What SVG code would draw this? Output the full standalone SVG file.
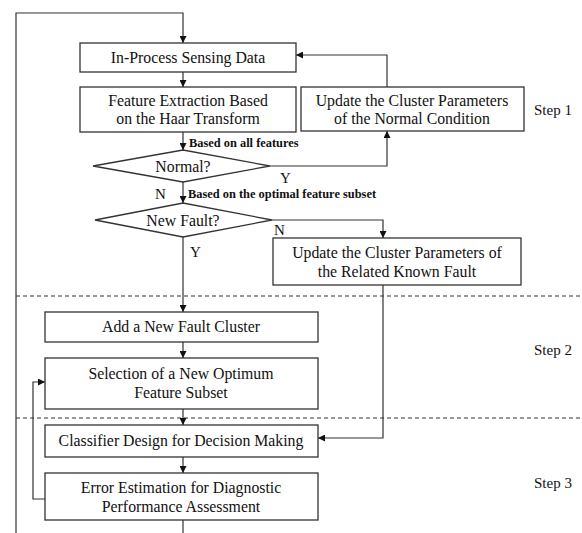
<svg xmlns="http://www.w3.org/2000/svg" width="582" height="533" viewBox="0 0 582 533">
<defs>
<marker id="ah" viewBox="0 0 10 10" refX="10" refY="5" markerWidth="7" markerHeight="7" markerUnits="userSpaceOnUse" orient="auto">
<path d="M0,0 L10,5 L0,10 Z" fill="#111"/>
</marker>
<style>
.box{fill:#fff;stroke:#333;stroke-width:1.3}
.t{font-family:"Liberation Serif",serif;font-size:15.8px;fill:#111;text-anchor:middle}
.s{font-family:"Liberation Serif",serif;font-size:12.4px;fill:#111}
.l{font-family:"Liberation Serif",serif;font-size:15px;fill:#111}
.c{fill:none;stroke:#333;stroke-width:1.2}
.d{fill:none;stroke:#333;stroke-width:1;stroke-dasharray:4,3}
</style>
</defs>
<rect width="582" height="533" fill="#fff"/>
<g id="dividers">
<line class="d" x1="16" y1="296" x2="582" y2="296"/>
<line class="d" x1="16" y1="418" x2="582" y2="418"/>
</g>
<g id="connectors">
<polyline class="c" points="183,533 183,520"/>
<polyline class="c" points="16,533 16,13 183,13 183,43" marker-end="url(#ah)"/>
<line class="c" x1="183" y1="72" x2="183" y2="87" marker-end="url(#ah)"/>
<line class="c" x1="183" y1="132" x2="183" y2="150" marker-end="url(#ah)"/>
<polyline class="c" points="270,166 387,166 387,131" marker-end="url(#ah)"/>
<polyline class="c" points="387,87 387,55 296,55" marker-end="url(#ah)"/>
<line class="c" x1="183" y1="182" x2="183" y2="203" marker-end="url(#ah)"/>
<polyline class="c" points="272,220 383,220 383,238" marker-end="url(#ah)"/>
<line class="c" x1="183" y1="237" x2="183" y2="312" marker-end="url(#ah)"/>
<polyline class="c" points="383,285 383,438 318,438" marker-end="url(#ah)"/>
<line class="c" x1="183" y1="342" x2="183" y2="358" marker-end="url(#ah)"/>
<line class="c" x1="183" y1="409" x2="183" y2="425" marker-end="url(#ah)"/>
<line class="c" x1="183" y1="457" x2="183" y2="473" marker-end="url(#ah)"/>
<polyline class="c" points="45,499 33,499 33,382 45,382" marker-end="url(#ah)"/>
</g>
<g id="labels">
<text class="s" x="189" y="147" font-weight="bold">Based on all features</text>
<text class="s" x="188" y="198" font-weight="bold">Based on the optimal feature subset</text>
<text class="l" x="280" y="183">Y</text>
<text class="l" x="155" y="199">N</text>
<text class="l" x="274" y="235">N</text>
<text class="l" x="190" y="257">Y</text>
<text class="l" x="534" y="115">Step 1</text>
<text class="l" x="534" y="355">Step 2</text>
<text class="l" x="534" y="488">Step 3</text>
</g>
<g id="n1"><rect class="box" x="80" y="43" width="216" height="29"/><text class="t" x="188" y="63">In-Process Sensing Data</text></g>
<g id="n2"><rect class="box" x="80" y="87" width="216" height="45"/><text class="t" x="188" y="106">Feature Extraction Based</text><text class="t" x="188" y="124">on the Haar Transform</text></g>
<g id="n3"><rect class="box" x="301" y="87" width="223" height="44"/><text class="t" x="412" y="106">Update the Cluster Parameters</text><text class="t" x="412" y="124">of the Normal Condition</text></g>
<g id="n4"><polygon class="box" points="93,166 183,150 270,166 183,182"/><text class="t" x="183" y="172">Normal?</text></g>
<g id="n5"><polygon class="box" points="95,220 183,203 272,220 183,237"/><text class="t" x="183" y="226">New Fault?</text></g>
<g id="n6"><rect class="box" x="273" y="238" width="248" height="47"/><text class="t" x="397" y="258">Update the Cluster Parameters of</text><text class="t" x="397" y="277">the Related Known Fault</text></g>
<g id="n7"><rect class="box" x="45" y="312" width="273" height="30"/><text class="t" x="181" y="332">Add a New Fault Cluster</text></g>
<g id="n8"><rect class="box" x="45" y="358" width="273" height="51"/><text class="t" x="181" y="379">Selection of a New Optimum</text><text class="t" x="181" y="398">Feature Subset</text></g>
<g id="n9"><rect class="box" x="45" y="425" width="273" height="32"/><text class="t" x="181" y="446">Classifier Design for Decision Making</text></g>
<g id="n10"><rect class="box" x="45" y="473" width="273" height="47"/><text class="t" x="181" y="493">Error Estimation for Diagnostic</text><text class="t" x="181" y="512">Performance Assessment</text></g>
</svg>
